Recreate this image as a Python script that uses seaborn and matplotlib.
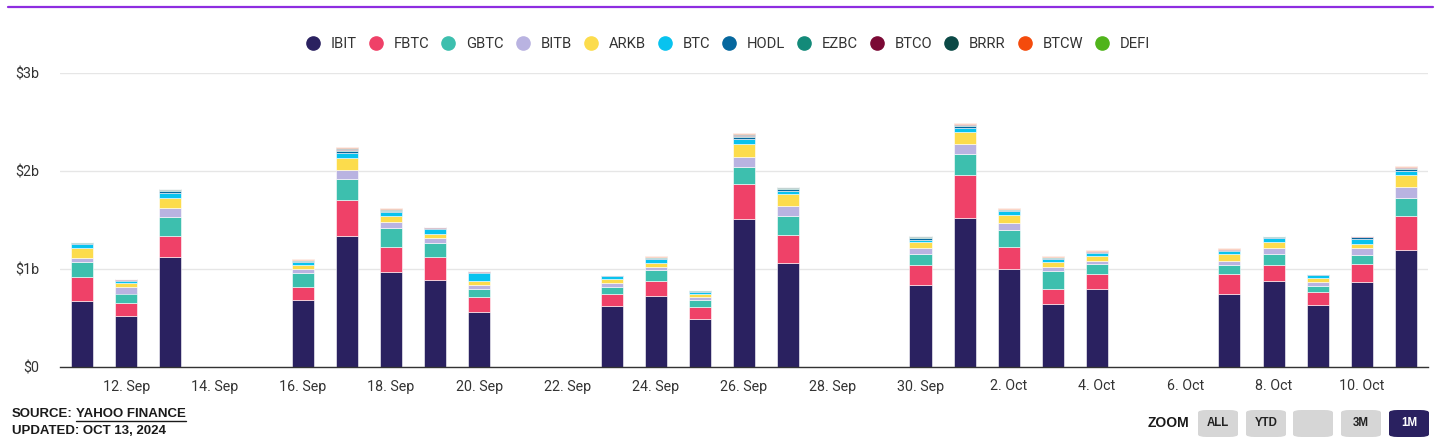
import matplotlib
matplotlib.use("Agg")
import matplotlib.pyplot as plt
import matplotlib.dates as mdates
from matplotlib.lines import Line2D
from matplotlib.patches import FancyBboxPatch
import pandas as pd
import seaborn as sns

# trading days shown on the 1M view
dates = [
    "2024-09-11", "2024-09-12", "2024-09-13",
    "2024-09-16", "2024-09-17", "2024-09-18", "2024-09-19", "2024-09-20",
    "2024-09-23", "2024-09-24", "2024-09-25", "2024-09-26", "2024-09-27",
    "2024-09-30", "2024-10-01", "2024-10-02", "2024-10-03", "2024-10-04",
    "2024-10-07", "2024-10-08", "2024-10-09", "2024-10-10", "2024-10-11",
]

funds = ["IBIT", "FBTC", "GBTC", "BITB", "ARKB", "BTC",
         "HODL", "EZBC", "BTCO", "BRRR", "BTCW", "DEFI"]
colors = ["#2a2160", "#ef4168", "#3dbfae", "#b9b3e1", "#fcdc4c", "#08c3ef",
          "#05679e", "#138a79", "#7b0935", "#0b4946", "#f44b0c", "#50b41b"]

# daily values in $ billions
ibit = [0.67, 0.52, 1.12, 0.68, 1.34, 0.97, 0.89, 0.56, 0.62, 0.72, 0.49, 1.51,
        1.06, 0.84, 1.52, 1.00, 0.64, 0.80, 0.75, 0.88, 0.63, 0.87, 1.19]
fbtc = [0.25, 0.13, 0.22, 0.14, 0.36, 0.25, 0.23, 0.15, 0.12, 0.16, 0.12, 0.36,
        0.29, 0.20, 0.44, 0.22, 0.16, 0.15, 0.20, 0.16, 0.14, 0.18, 0.35]
gbtc = [0.15, 0.10, 0.19, 0.14, 0.22, 0.20, 0.15, 0.09, 0.08, 0.11, 0.07, 0.17,
        0.19, 0.11, 0.21, 0.18, 0.18, 0.10, 0.09, 0.11, 0.06, 0.09, 0.18]
bitb = [0.04, 0.07, 0.09, 0.04, 0.09, 0.06, 0.05, 0.04, 0.04, 0.03, 0.03, 0.10,
        0.10, 0.06, 0.11, 0.07, 0.04, 0.03, 0.04, 0.06, 0.04, 0.07, 0.12]
arkb = [0.10, 0.04, 0.10, 0.04, 0.12, 0.06, 0.04, 0.04, 0.04, 0.04, 0.03, 0.14,
        0.13, 0.07, 0.12, 0.08, 0.05, 0.05, 0.07, 0.07, 0.04, 0.05, 0.12]
btc = [0.05, 0.02, 0.06, 0.03, 0.05, 0.04, 0.05, 0.08, 0.03, 0.04, 0.03, 0.05,
       0.03, 0.02, 0.04, 0.04, 0.03, 0.03, 0.03, 0.04, 0.03, 0.05, 0.04]
hodl = [0.010, 0.008, 0.016, 0.012, 0.020, 0.014, 0.008, 0.008, 0.005, 0.012,
        0.007, 0.020, 0.015, 0.015, 0.018, 0.012, 0.012, 0.012, 0.012, 0.008,
        0.004, 0.012, 0.020]
ezbc = [0.004, 0.004, 0.008, 0.006, 0.012, 0.008, 0.004, 0.004, 0.002, 0.006,
        0.004, 0.012, 0.008, 0.008, 0.010, 0.006, 0.006, 0.006, 0.006, 0.004,
        0.002, 0.006, 0.010]
btco = [0.002, 0.003, 0.005, 0.003, 0.008, 0.005, 0.003, 0.003, 0.001, 0.004,
        0.004, 0.008, 0.005, 0.005, 0.007, 0.004, 0.004, 0.004, 0.004, 0.003,
        0.001, 0.004, 0.006]
brrr = [0.003, 0.003, 0.006, 0.005, 0.010, 0.006, 0.003, 0.003, 0.001, 0.004,
        0.003, 0.010, 0.006, 0.006, 0.008, 0.005, 0.004, 0.004, 0.004, 0.003,
        0.002, 0.004, 0.008]
btcw = [0.001, 0.002, 0.005, 0.004, 0.010, 0.007, 0.002, 0.002, 0.001, 0.004,
        0.002, 0.010, 0.006, 0.006, 0.007, 0.003, 0.004, 0.004, 0.004, 0.002,
        0.001, 0.004, 0.005]
defi = [0.0003] * 23

tick_dates = ["2024-09-12", "2024-09-14", "2024-09-16", "2024-09-18",
              "2024-09-20", "2024-09-22", "2024-09-24", "2024-09-26",
              "2024-09-28", "2024-09-30", "2024-10-02", "2024-10-04",
              "2024-10-06", "2024-10-08", "2024-10-10"]
tick_labels = ["12. Sep", "14. Sep", "16. Sep", "18. Sep", "20. Sep",
               "22. Sep", "24. Sep", "26. Sep", "28. Sep", "30. Sep",
               "2. Oct", "4. Oct", "6. Oct", "8. Oct", "10. Oct"]
y_ticks = [0, 1, 2, 3]
y_labels = ["$0", "$1b", "$2b", "$3b"]

flows = pd.DataFrame({
    "date": pd.to_datetime(dates),
    "IBIT": ibit, "FBTC": fbtc, "GBTC": gbtc, "BITB": bitb, "ARKB": arkb,
    "BTC": btc, "HODL": hodl, "EZBC": ezbc, "BTCO": btco, "BRRR": brrr,
    "BTCW": btcw, "DEFI": defi,
})
long_df = flows.melt(id_vars="date", var_name="fund", value_name="value")
long_df["day"] = mdates.date2num(long_df["date"].to_numpy())

palette = dict(zip(funds, colors))

sns.set_theme(style="white")
plt.rcParams["font.family"] = ["Roboto", "DejaVu Sans"]

W, H = 1456, 446
fig = plt.figure(figsize=(W / 100, H / 100), dpi=100)
ax = fig.add_axes([60 / W, 79 / H, 1368 / W, 294 / H])

# seaborn stacks the last hue level at the bottom, so reverse the order
sns.histplot(
    data=long_df, x="day", weights="value", hue="fund",
    hue_order=funds[::-1], palette=palette, multiple="stack",
    discrete=True, shrink=0.5, alpha=1, edgecolor="white", linewidth=0.4,
    legend=False, ax=ax,
)

first = mdates.date2num(pd.Timestamp(dates[0]))
last = mdates.date2num(pd.Timestamp(dates[-1]))
ax.set_xlim(first - 0.5, last + 0.5)
ax.set_ylim(0, 3)
ax.set_xticks(mdates.date2num(pd.to_datetime(tick_dates).to_numpy()))
ax.set_xticklabels(tick_labels)
ax.set_yticks(y_ticks)
ax.set_yticklabels(y_labels)
ax.set_xlabel("")
ax.set_ylabel("")
ax.tick_params(axis="both", length=0, labelsize=10.3, colors="#333333")
ax.tick_params(axis="x", pad=9)
ax.tick_params(axis="y", pad=15)
ax.yaxis.grid(True, color="#e6e6e6", linewidth=1)
ax.set_axisbelow(True)
for side in ["top", "right", "left"]:
    ax.spines[side].set_visible(False)
ax.spines["bottom"].set_color("#333333")
ax.spines["bottom"].set_linewidth(1)

# legend row on top
handles = [Line2D([], [], marker="o", linestyle="", markersize=9.5,
                  markerfacecolor=c, markeredgecolor=c) for c in colors]
fig.legend(handles, funds, ncol=len(funds), loc="center",
           bbox_to_anchor=(0.5, 1 - 44 / H), frameon=False,
           handlelength=1.0, handletextpad=0.7, columnspacing=0.8,
           fontsize=10.6, labelcolor="#333333")

# purple rule at the very top
fig.add_artist(Line2D([8 / W, 1433 / W], [1 - 7 / H, 1 - 7 / H],
                      color="#8e2de0", linewidth=1.6))

# footer
foot = dict(family=["Liberation Sans", "DejaVu Sans"], fontweight="bold",
            fontsize=9.5, color="#1a1a1a", va="center")
src = fig.text(12 / W, 1 - 414 / H, "SOURCE:", **foot)
fig.text(12 / W, 1 - 431 / H, "UPDATED: OCT 13, 2024", **foot)
fig.canvas.draw()
bb = src.get_window_extent()
yahoo = fig.text((bb.x1 + 3) / W, 1 - 414 / H, "YAHOO FINANCE", **foot)
fig.canvas.draw()
yb = yahoo.get_window_extent()
fig.add_artist(Line2D([yb.x0 / W, yb.x1 / W], [(yb.y0 - 0.5) / H] * 2,
                      color="#1a1a1a", linewidth=1))

# zoom buttons
fig.text(1189 / W, 1 - 423 / H, "ZOOM", ha="right", **{**foot, "fontsize": 10})
buttons = ["ALL", "YTD", "", "3M", "1M"]
lefts = [1198, 1246, 1293, 1341, 1389]
for label, x0 in zip(buttons, lefts):
    active = label == "1M"
    fig.add_artist(FancyBboxPatch(
        (x0 / W, 1 - 437 / H), 40 / W, 27 / H,
        boxstyle="round,pad=0,rounding_size=0.006",
        transform=fig.transFigure, linewidth=0,
        facecolor="#2a2160" if active else "#d6d6d6"))
    if label:
        fig.text((x0 + 20) / W, 1 - 423.5 / H, label, ha="center",
                 va="center", family=["Liberation Sans", "DejaVu Sans"],
                 fontweight="bold", fontsize=8.3,
                 color="white" if active else "#222222")

fig.savefig("out.png", dpi=100)
